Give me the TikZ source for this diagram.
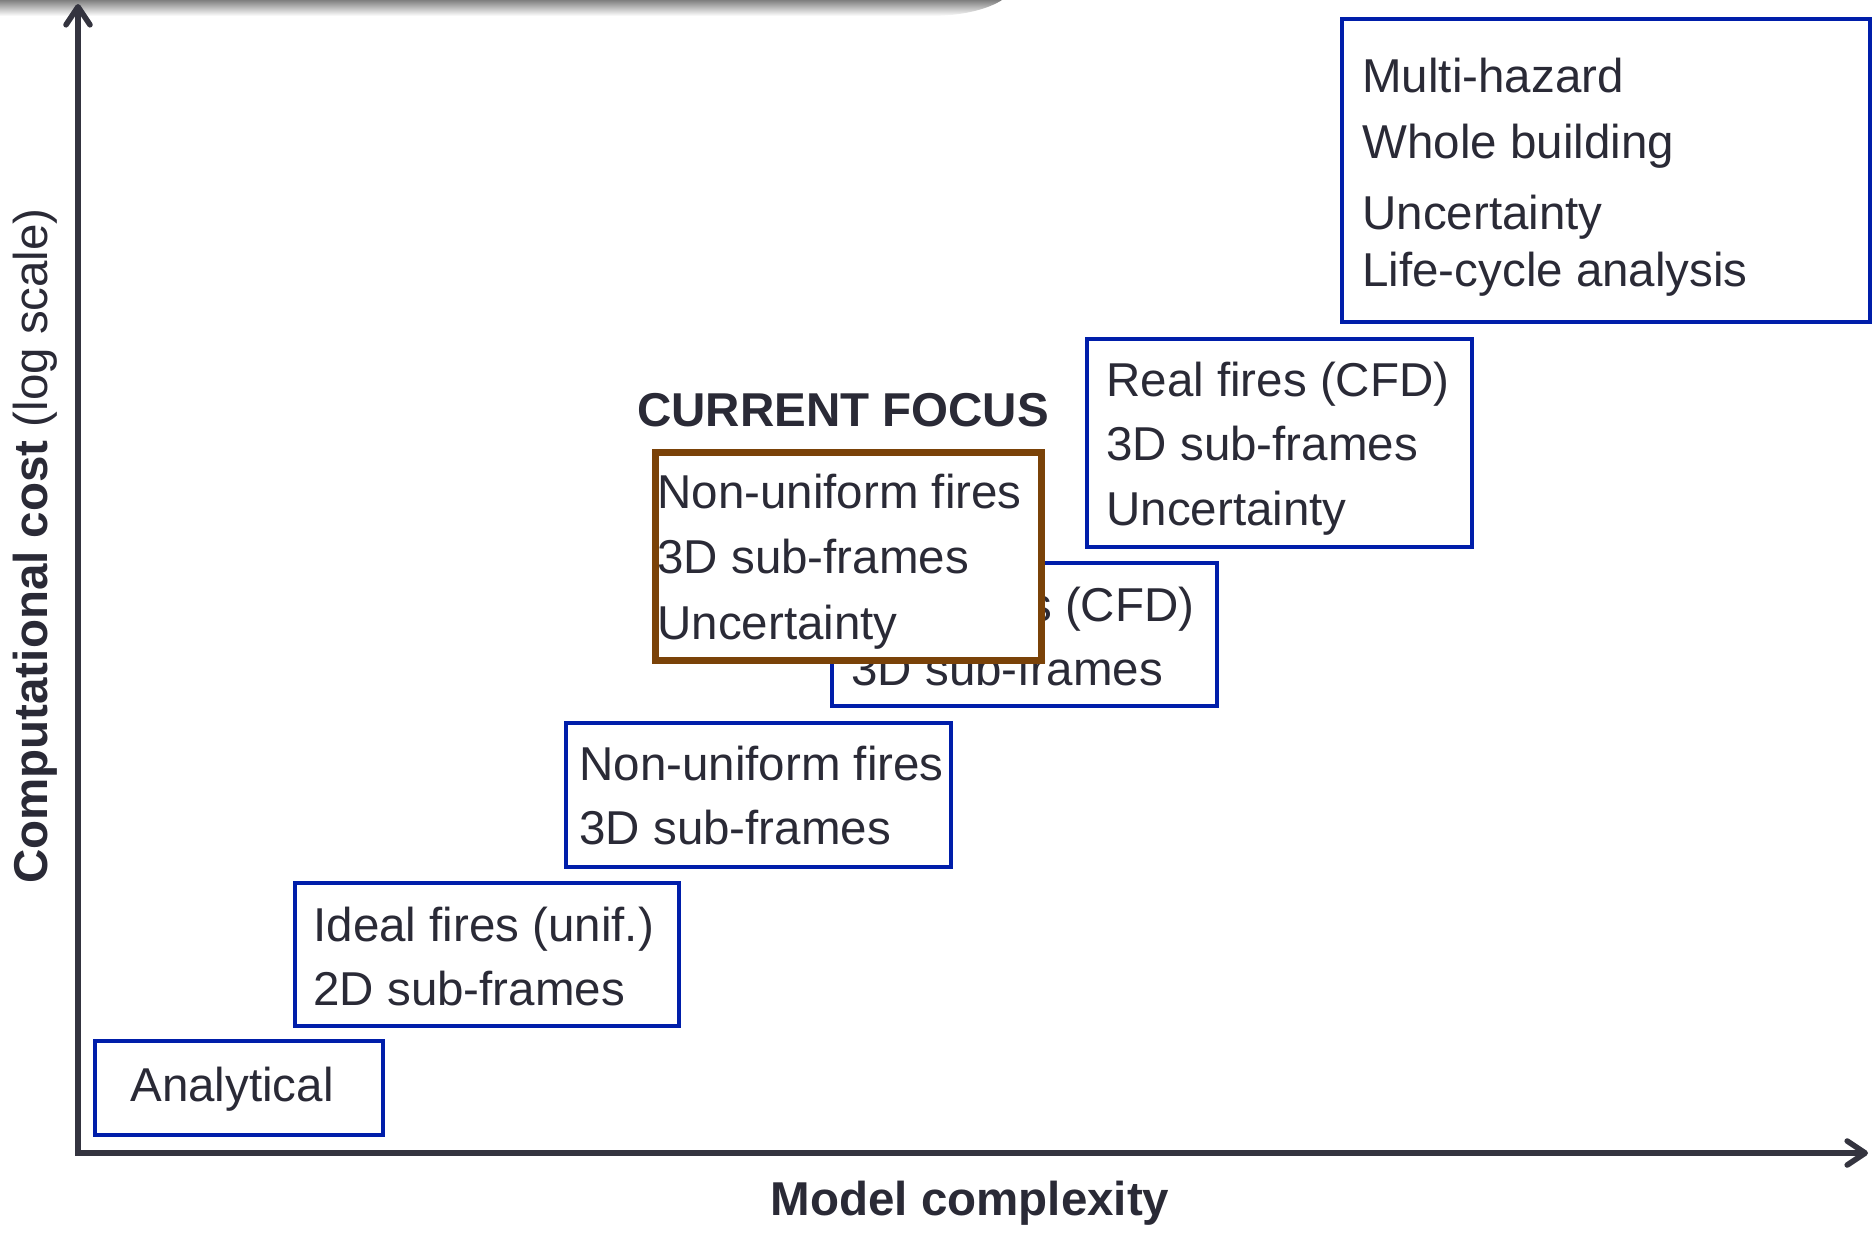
\documentclass[tikz,border=0pt]{standalone}
\usepackage{fontspec}
\setmainfont{Liberation Sans}
\usetikzlibrary{arrows.meta}
\definecolor{txt}{RGB}{42,42,54}
\definecolor{axiscol}{RGB}{52,52,63}
\definecolor{boxblue}{RGB}{0,30,170}
\definecolor{focusbrown}{RGB}{122,66,8}
\newcommand{\bodyfont}{\fontsize{23.75}{32}\selectfont}
\newcommand{\linestack}[1]{\begin{tabular}[t]{@{}l@{}}#1\end{tabular}}
\begin{document}
\begin{tikzpicture}[x=0.5pt,y=-0.5pt,
  bluebox/.style={draw=boxblue, line width=1.75pt, fill=white, inner sep=0pt, anchor=north west},
  focusbox/.style={draw=focusbrown, line width=3.5pt, fill=white, inner sep=0pt, anchor=north west},
  boxtext/.style={anchor=base west, inner sep=0pt, text=txt, font=\bodyfont},
  axislabel/.style={anchor=base, inner sep=0pt, text=txt, font=\bodyfont},
  axisline/.style={draw=axiscol, line width=2.8pt, {Straight Barb[length=9pt,width=12pt,round]}-{Straight Barb[length=9pt,width=12pt,round]}}
]
\useasboundingbox (0,0) rectangle (1874,1232);
\shade[top color=black!50, bottom color=white] (0,0) -- (1002,0) .. controls (990,8) and (965,16) .. (930,16) -- (0,16) -- cycle;

\coordinate (ytop) at (78,4);
\coordinate (origin) at (78,1153);
\coordinate (xend) at (1868,1153);
\draw[axisline] (ytop) -- (origin) -- (xend);

\node[bluebox, minimum width=144pt, minimum height=47pt] (analyticalbox) at (93,1039) {};
\node[boxtext] (analytical) at (130,1101) {Analytical};

\node[bluebox, minimum width=192pt, minimum height=71.5pt] (idealbox) at (293,881) {};
\node[boxtext] (ideal) at (313,941) {\linestack{Ideal fires (unif.)\\2D sub-frames}};

\node[bluebox, minimum width=192.5pt, minimum height=72pt] (nubox) at (564,721) {};
\node[boxtext] (nu) at (579,780) {\linestack{Non-uniform fires\\3D sub-frames}};

\node[bluebox, minimum width=192.5pt, minimum height=71.5pt] (cfdlowbox) at (830,561) {};
\node[boxtext] (cfdlow) at (851,621) {\linestack{Real fires (CFD)\\3D sub-frames}};

\node[focusbox, minimum width=193pt, minimum height=104pt] (focusframe) at (652,449) {};
\node[boxtext] (focus) at (657,508) {\linestack{Non-uniform fires\\[0.75pt]3D sub-frames\\[0.75pt]Uncertainty}};

\node[bluebox, minimum width=192.5pt, minimum height=104pt] (cfdhighbox) at (1085,337) {};
\node[boxtext] (cfdhigh) at (1106,396) {\linestack{Real fires (CFD)\\3D sub-frames\\[0.5pt]Uncertainty}};

\node[bluebox, minimum width=264pt, minimum height=151.5pt] (multibox) at (1340,17) {};
\node[boxtext] (multi) at (1362,92) {\linestack{Multi-hazard\\[1pt]Whole building\\[3.5pt]Uncertainty\\[-3.5pt]Life-cycle analysis}};

\node[axislabel, font=\bodyfont\bfseries] (focuslabel) at (843,426) {CURRENT FOCUS};
\node[axislabel, font=\bodyfont\bfseries] (xlabel) at (970,1215) {Model complexity};
\node[axislabel, rotate=90] (ylabel) at (47,546) {\textbf{Computational cost} (log scale)};
\end{tikzpicture}
\end{document}
